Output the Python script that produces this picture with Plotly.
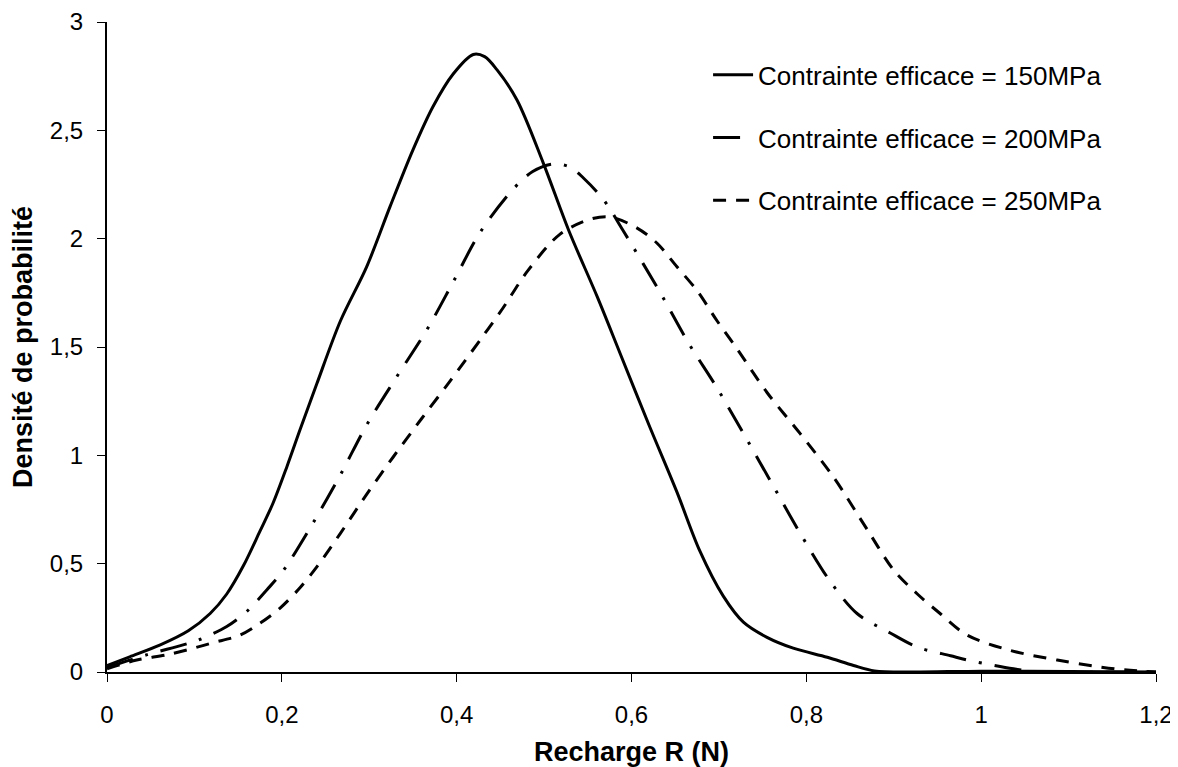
import plotly.graph_objects as go

# Solid: Contrainte efficace = 150MPa
x150 = [0, 0.026, 0.061, 0.093, 0.118, 0.137, 0.156, 0.175, 0.19, 0.206, 0.221, 0.24, 0.267, 0.297,
        0.324, 0.35, 0.373, 0.396, 0.419, 0.432, 0.446, 0.469, 0.499, 0.528, 0.561, 0.587, 0.62, 0.652,
        0.678, 0.705, 0.728, 0.755, 0.785, 0.824, 0.854, 0.878, 0.92, 1.0, 1.1, 1.2]
y150 = [0.03, 0.07, 0.125, 0.19, 0.27, 0.36, 0.49, 0.65, 0.78, 0.95, 1.12, 1.33, 1.62, 1.87,
        2.15, 2.41, 2.61, 2.76, 2.85, 2.84, 2.78, 2.64, 2.35, 2.04, 1.73, 1.47, 1.14, 0.83,
        0.56, 0.35, 0.23, 0.16, 0.11, 0.068, 0.03, 0.005, 0.0, 0.004, 0.002, 0.0]

# Dash-dot: Contrainte efficace = 200MPa
x200 = [0, 0.046, 0.087, 0.106, 0.137, 0.16, 0.183, 0.202, 0.236, 0.267, 0.297, 0.331, 0.366,
        0.396, 0.427, 0.465, 0.487, 0.51, 0.53, 0.545, 0.568, 0.59, 0.633, 0.665, 0.698, 0.731,
        0.762, 0.793, 0.827, 0.858, 0.896, 0.927, 0.965, 0.99, 1.037, 1.06, 1.2]
y200 = [0.02, 0.08, 0.125, 0.15, 0.21, 0.28, 0.38, 0.47, 0.69, 0.91, 1.14, 1.36, 1.58,
        1.80, 2.03, 2.23, 2.31, 2.345, 2.33, 2.28, 2.18, 2.04, 1.75, 1.52, 1.31, 1.08,
        0.86, 0.64, 0.42, 0.27, 0.18, 0.115, 0.075, 0.05, 0.015, 0.003, 0.0]

# Dashed: Contrainte efficace = 250MPa
x250 = [0, 0.034, 0.069, 0.099, 0.121, 0.152, 0.175, 0.198, 0.221, 0.24, 0.267, 0.297, 0.327,
        0.36, 0.392, 0.43, 0.453, 0.481, 0.518, 0.553, 0.576, 0.606, 0.629, 0.652, 0.675, 0.698,
        0.721, 0.755, 0.793, 0.831, 0.87, 0.9, 0.927, 0.953, 0.984, 1.033, 1.087, 1.128, 1.156, 1.2]
y250 = [0.015, 0.055, 0.08, 0.11, 0.135, 0.17, 0.225, 0.295, 0.39, 0.485, 0.64, 0.82, 0.99,
        1.17, 1.34, 1.55, 1.68, 1.85, 2.02, 2.09, 2.10, 2.05, 1.98, 1.87, 1.76, 1.62,
        1.49, 1.29, 1.10, 0.90, 0.655, 0.47, 0.36, 0.27, 0.17, 0.10, 0.055, 0.028, 0.013, 0.0]

names = ["Contrainte efficace = 150MPa", "Contrainte efficace = 200MPa", "Contrainte efficace = 250MPa"]
xtick_vals = [0, 0.2, 0.4, 0.6, 0.8, 1, 1.2]
ytick_vals = [0, 0.5, 1, 1.5, 2, 2.5, 3]

FONT = "Liberation Sans, Arial, sans-serif"

fig = go.Figure()
series = [(x150, y150, "solid"), (x200, y200, "27px,13px,3px,13px"), (x250, y250, "13px,10px")]
for i, (xs, ys, dash) in enumerate(series):
    fig.add_trace(go.Scatter(
        x=xs, y=ys, mode="lines", name=names[i], legendgroup=f"g{i}",
        line=dict(color="black", width=3, dash=dash, shape="spline", smoothing=0.9),
    ))

# page body has an 8px default margin, so the figure is sized/offset to compensate
fig.update_layout(
    width=1170, height=759,
    margin=dict(l=99, r=22, t=14, b=95, autoexpand=False),
    paper_bgcolor="white", plot_bgcolor="white",
    separators=", ",
    font=dict(family=FONT, color="black", size=24),
    showlegend=True,
    legend=dict(
        x=0.573, y=0.955, xanchor="left", yanchor="top",
        bgcolor="rgba(0,0,0,0)", font=dict(size=26, family=FONT),
        traceorder="grouped", tracegroupgap=26, itemwidth=40,
    ),
    xaxis=dict(
        range=[0, 1.2], tickvals=xtick_vals, ticks="outside", ticklen=8, tickwidth=1,
        tickcolor="black", showline=True, linecolor="black", linewidth=2,
        showgrid=False, zeroline=False, tickfont=dict(size=24), ticklabelstandoff=12,
        automargin=False,
        title=dict(text="<b>Recharge R (N)</b>", font=dict(size=27), standoff=22),
    ),
    yaxis=dict(
        range=[0, 3], tickvals=ytick_vals, ticks="outside", ticklen=8, tickwidth=1,
        tickcolor="black", showline=True, linecolor="black", linewidth=2,
        showgrid=False, zeroline=False, tickfont=dict(size=24), ticklabelstandoff=9,
        automargin=False,
        title=dict(text="<b>Densité de probabilité</b>", font=dict(size=27), standoff=10),
    ),
)

fig.write_html("out.html")
